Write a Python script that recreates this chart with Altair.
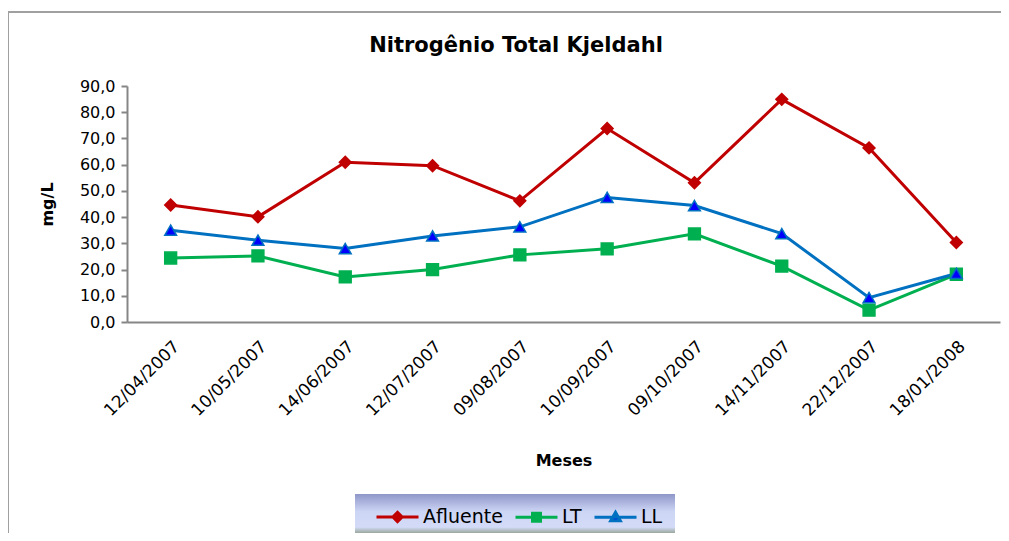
import altair as alt
import pandas as pd

dates = ["12/04/2007", "10/05/2007", "14/06/2007", "12/07/2007", "09/08/2007",
         "10/09/2007", "09/10/2007", "14/11/2007", "22/12/2007", "18/01/2008"]
afluente = [44.6, 40.1, 60.9, 59.6, 46.2, 73.8, 53.1, 84.9, 66.4, 30.3]
lt = [24.4, 25.2, 17.2, 20.0, 25.6, 27.9, 33.6, 21.3, 4.5, 18.2]
ll = [35.0, 31.2, 28.0, 32.8, 36.3, 47.5, 44.4, 33.7, 9.3, 18.5]
series = ["Afluente", "LT", "LL"]
line_colors = ["#C00000", "#00B050", "#0070C0"]
fill_colors = ["#C00000", "#00B050", "#0000FF"]
shapes = ["diamond", "square", "triangle-up"]
legend_shapes = [
    "M-1,0L1,0M0,-0.22L0.22,0L0,0.22L-0.22,0Z",
    "M-1,0L1,0M-0.19,-0.19L0.19,-0.19L0.19,0.19L-0.19,0.19Z",
    "M-1,0L1,0M0,-0.24L0.23,0.17L-0.23,0.17Z",
]
y_ticks = [0, 10, 20, 30, 40, 50, 60, 70, 80, 90]

rows = []
for name, vals in zip(series, [afluente, lt, ll]):
    for d, v in zip(dates, vals):
        rows.append({"Data": d, "Serie": name, "Valor": v})
df = pd.DataFrame(rows)

FONT = "DejaVu Sans"
W, H = 873, 236

x_enc = alt.X("Data:N", sort=dates,
              scale=alt.Scale(type="point", padding=0.5),
              axis=alt.Axis(title="Meses", labelAngle=-45, labelFontSize=17,
                            labelFont=FONT, labelColor="#000000", ticks=False,
                            labelPadding=16, domainColor="#868686", domainWidth=2,
                            titleFont=FONT, titleFontSize=16, titleFontWeight="bold",
                            titleColor="#000000", titleY=130, grid=False))
y_enc = alt.Y("Valor:Q",
              scale=alt.Scale(domain=[0, 90], nice=False),
              axis=alt.Axis(title="mg/L", values=y_ticks,
                            labelExpr="replace(format(datum.value, '.1f'), '.', ',')",
                            labelFont=FONT, labelFontSize=16, labelColor="#000000",
                            labelPadding=6, tickSize=6, tickColor="#868686", tickWidth=2,
                            domainColor="#868686", domainWidth=2, grid=False,
                            titleFont=FONT, titleFontSize=16, titleFontWeight="bold",
                            titleColor="#000000", titleX=-72))

legend = alt.Legend(
    title=None, orient="none", direction="horizontal", legendX=248, legendY=408,
    labelFont=FONT, labelFontSize=19, labelColor="#000000",
    symbolSize=1764, symbolStrokeWidth=3, symbolOpacity=1,
    columnPadding=6, labelOffset=3, padding=0)

lines = alt.Chart(df).mark_line(strokeWidth=3).encode(
    x=x_enc, y=y_enc,
    stroke=alt.Stroke("Serie:N", sort=series,
                      scale=alt.Scale(domain=series, range=line_colors), legend=None),
)

points = alt.Chart(df).mark_point(filled=True, size=140, strokeWidth=1.5, opacity=1).encode(
    x=x_enc, y=y_enc,
    fill=alt.Fill("Serie:N", sort=series,
                  scale=alt.Scale(domain=series, range=fill_colors), legend=None),
    stroke=alt.Stroke("Serie:N", sort=series,
                      scale=alt.Scale(domain=series, range=line_colors), legend=None),
    shape=alt.Shape("Serie:N", sort=series,
                    scale=alt.Scale(domain=series, range=shapes), legend=None),
)

legend_layer = alt.Chart(df).transform_filter("false").mark_point(
    filled=True, opacity=1, strokeWidth=3).encode(
    x=x_enc, y=y_enc,
    fill=alt.Fill("Serie:N", sort=series,
                  scale=alt.Scale(domain=series, range=fill_colors), legend=legend),
    stroke=alt.Stroke("Serie:N", sort=series,
                      scale=alt.Scale(domain=series, range=line_colors), legend=legend),
    shape=alt.Shape("Serie:N", sort=series,
                    scale=alt.Scale(domain=series, range=legend_shapes), legend=legend),
)

one = pd.DataFrame({"k": [0]})
frame = alt.Chart(one).mark_rect(fillOpacity=0, stroke="#a0a0a0", strokeWidth=2, clip=False).encode(
    x=alt.value(-119), x2=alt.value(895), y=alt.value(-74), y2=alt.value(470))

legend_bg = alt.Chart(one).mark_rect(
    clip=False,
    fill=alt.Gradient(gradient="linear", x1=0, y1=0, x2=0, y2=1,
                      stops=[alt.GradientStop(offset=0, color="#8f97c9"),
                             alt.GradientStop(offset=0.45, color="#cdd5f5"),
                             alt.GradientStop(offset=0.85, color="#d3dbf8"),
                             alt.GradientStop(offset=1, color="#9aa89c")])
).encode(x=alt.value(228), x2=alt.value(548), y=alt.value(408), y2=alt.value(447))

title = alt.Chart(pd.DataFrame({"t": ["Nitrogênio Total Kjeldahl"]})).mark_text(
    font=FONT, fontSize=21, fontWeight="bold", color="#000000", baseline="middle", align="center"
).encode(text="t:N", x=alt.value(389), y=alt.value(-40))

chart = alt.layer(frame, legend_bg, lines, points, legend_layer, title).resolve_scale(
    shape="independent", fill="independent", stroke="independent"
).properties(
    width=W, height=H,
    background="#ffffff",
    view=alt.ViewBackground(stroke="transparent", strokeWidth=0),
    autosize=alt.AutoSizeParams(type="none"),
    padding={"left": 119, "top": 78, "right": 1, "bottom": 211},
).configure_view(stroke="transparent", strokeWidth=0)

chart.save("out.html", embed_options={"renderer": "svg", "actions": False})
